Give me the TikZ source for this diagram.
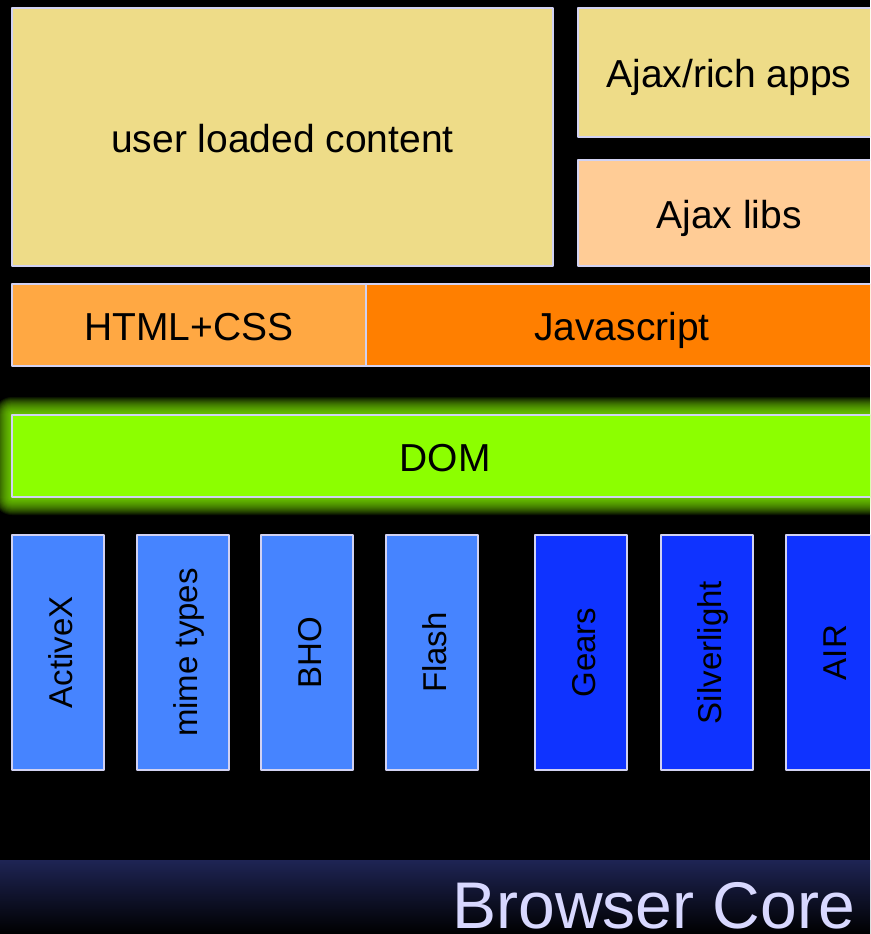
\documentclass[tikz,border=0pt]{standalone}
\usepackage{fontspec}
\setmainfont{Liberation Sans}
\definecolor{khaki}{HTML}{EEDC88}
\definecolor{peach}{HTML}{FFCC96}
\definecolor{htmlorange}{HTML}{FFA843}
\definecolor{jsorange}{HTML}{FF7F00}
\definecolor{domgreen}{HTML}{8CFF00}
\definecolor{plugblue}{HTML}{4684FF}
\definecolor{richblue}{HTML}{0F33FF}
\definecolor{rim}{HTML}{D2D2F2}
\definecolor{corenavy}{HTML}{1E2454}
\definecolor{corelabel}{HTML}{D8D8FF}
\begin{document}
\begin{tikzpicture}[x=1pt,y=-1pt,line join=round,
    layer/.style={draw=rim,line width=2pt,inner sep=0pt,text height=31pt,text depth=0pt,font=\fontsize{39}{41}\selectfont},
    plug/.style={layer,rotate=90,minimum width=235pt,minimum height=92pt,text height=28pt,font=\fontsize{33}{35}\selectfont}]
    \def\W{870}
    \def\H{934}
    \fill[black] (0,0) rectangle (\W,\H);
    \useasboundingbox (0,0) rectangle (\W,\H);
    \clip (0,0) rectangle (\W,\H);
    % browser core band
    \shade[top color=corenavy,bottom color=black] (0,860) rectangle (\W,\H);
    \node[text=corelabel,font=\fontsize{66}{70}\selectfont,anchor=base east,inner sep=0pt] (core) at (856,928) {Browser Core};
    % upper layers
    \node[layer,fill=khaki,minimum width=541pt,minimum height=258pt] (user) at (282.5,137) {user loaded content};
    \node[layer,fill=khaki,minimum width=302pt,minimum height=129pt] (apps) at (729,72.5) {Ajax/rich apps};
    \node[layer,fill=peach,minimum width=302pt,minimum height=106pt] (libs) at (729,213) {Ajax libs};
    \node[layer,fill=htmlorange,minimum width=354pt,minimum height=82pt] (html) at (189,325) {HTML+CSS};
    \node[layer,fill=jsorange,minimum width=512pt,minimum height=82pt] (js) at (622,325) {Javascript};
    % glow round the DOM
    \foreach \g in {1,...,18}
        \fill[domgreen,opacity=.08,rounded corners=\g pt] (12-\g,415-\g) rectangle (878+\g,497+\g);
    \node[layer,fill=domgreen,minimum width=866pt,minimum height=82pt] (dom) at (445,456) {DOM};
    % plugins
    \foreach \x/\t/\n in {58/ActiveX/activex,183/mime types/mime,307/BHO/bho,432/Flash/flash}
        \node[plug,fill=plugblue] (\n) at (\x,652.5) {\t};
    \foreach \x/\t/\n in {581/Gears/gears,707/Silverlight/silverlight,832/AIR/air}
        \node[plug,fill=richblue] (\n) at (\x,652.5) {\t};
\end{tikzpicture}
\end{document}
